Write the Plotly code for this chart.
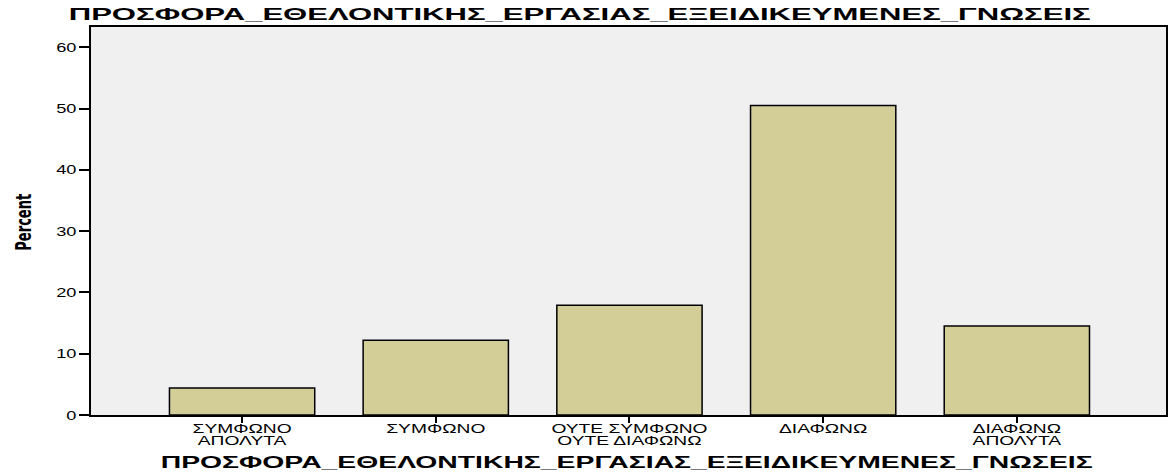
import plotly.graph_objects as go

categories = ["ΣΥΜΦΩΝΟ<br>ΑΠΟΛΥΤΑ", "ΣΥΜΦΩΝΟ", "ΟΥΤΕ ΣΥΜΦΩΝΟ<br>ΟΥΤΕ ΔΙΑΦΩΝΩ", "ΔΙΑΦΩΝΩ", "ΔΙΑΦΩΝΩ<br>ΑΠΟΛΥΤΑ"]
percent = [4.4, 12.2, 17.9, 50.5, 14.5]
y_ticks = [0, 10, 20, 30, 40, 50, 60]
title_text = "ΠΡΟΣΦΟΡΑ_ΕΘΕΛΟΝΤΙΚΗΣ_ΕΡΓΑΣΙΑΣ_ΕΞΕΙΔΙΚΕΥΜΕΝΕΣ_ΓΝΩΣΕΙΣ"
y_title = "Percent"

fig = go.Figure(go.Bar(
    x=list(range(len(categories))), y=percent,
    width=0.75,
    marker=dict(color="#d3ce98", line=dict(color="black", width=1.5)),
))

fig.update_layout(
    width=1168, height=475,
    margin=dict(l=91, r=2, t=27, b=60),
    paper_bgcolor="white", plot_bgcolor="#f0f0f0",
    showlegend=False,
    font=dict(family="Liberation Sans, Arial", color="black"),
    annotations=[
        dict(text="<b>" + title_text + "</b>", xref="paper", yref="paper",
             x=0.454, y=1.0335, xanchor="center", yanchor="middle", showarrow=False,
             font=dict(family="Liberation Sans, Arial", size=17, color="black")),
        dict(text="<b>" + title_text + "</b>", xref="paper", yref="paper",
             x=0.4977, y=-0.1237, xanchor="center", yanchor="middle", showarrow=False,
             font=dict(family="Liberation Sans, Arial", size=17, color="black")),
        dict(text="<b>" + y_title + "</b>", xref="paper", yref="paper",
             x=-0.063, y=0.497, xanchor="center", yanchor="middle", showarrow=False,
             textangle=-90,
             font=dict(family="Liberation Sans Narrow, DejaVu Sans Condensed, Liberation Sans",
                       size=22, color="black")),
    ],
)
fig.update_xaxes(
    range=[-0.78, 4.77], tickvals=list(range(len(categories))), ticktext=categories,
    ticks="outside", ticklen=6, tickwidth=2, tickcolor="black",
    showline=True, linecolor="black", linewidth=2, mirror=True,
    showgrid=False, zeroline=False, automargin=False,
    tickfont=dict(size=12, family="Liberation Sans, Arial"),
)
fig.update_yaxes(
    range=[0, 63.3], tickvals=y_ticks,
    ticks="outside", ticklen=10, tickwidth=1.5, tickcolor="black",
    showline=True, linecolor="black", linewidth=2, mirror=True,
    showgrid=False, zeroline=False, automargin=False,
    tickfont=dict(size=13, family="Liberation Sans, Arial"),
)

post_js = """
document.body.style.margin = '0';
function stretchTo(el, len){ el.setAttribute('textLength', len); el.setAttribute('lengthAdjust', 'spacingAndGlyphs'); }
function stretchBy(el, f){ var w = el.getComputedTextLength(); stretchTo(el, w * f); }
var ann = document.querySelectorAll('.annotation-text');
if (ann.length >= 3) { stretchTo(ann[0], 1022); stretchTo(ann[1], 932); stretchTo(ann[2], 57); }
document.querySelectorAll('.xtick text').forEach(function(t){
  var lines = t.querySelectorAll('tspan.line');
  if (lines.length) {
    lines.forEach(function(l, i){ stretchBy(l, 1.6); if (i > 0) l.setAttribute('dy', '1.0em'); });
  } else { stretchBy(t, 1.6); }
  var tr = t.getAttribute('transform') || '';
  t.setAttribute('transform', tr + ' translate(0,-4)');
});
document.querySelectorAll('.ytick text').forEach(function(t){ stretchBy(t, 1.4); });
"""
fig.write_html("out.html", post_script=post_js, config={"displayModeBar": False})
